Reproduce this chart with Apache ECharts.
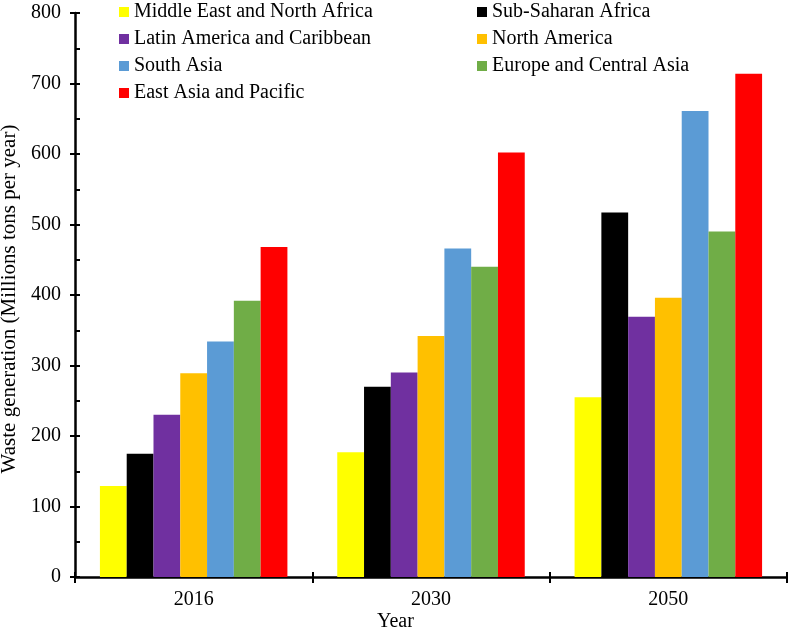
<!DOCTYPE html>
<html>
<head>
<meta charset="utf-8">
<script src="https://cdn.jsdelivr.net/npm/echarts@6/dist/echarts.min.js"></script>
<style>
  html, body { margin: 0; padding: 0; background: #fff; }
  #chart { width: 788px; height: 635px; }
</style>
</head>
<body>
<div id="chart"></div>
<script>
const years = ['2016', '2030', '2050'];
const regions = [
    'Middle East and North Africa',
    'Sub-Saharan Africa',
    'Latin America and Caribbean',
    'North America',
    'South Asia',
    'Europe and Central Asia',
    'East Asia and Pacific'
];
const colors = ['#FFFF00', '#000000', '#7030A0', '#FFC000', '#5B9BD5', '#70AD47', '#FF0000'];

const middleEast = [129, 177, 255];
const subSaharan = [175, 270, 517];
const latinAmerica = [230, 290, 369];
const northAmerica = [289, 342, 396];
const southAsia = [334, 466, 661];
const europe = [392, 440, 490];
const eastAsia = [468, 602, 714];
const valuesBySeries = [middleEast, subSaharan, latinAmerica, northAmerica, southAsia, europe, eastAsia];

const yTicks = { min: 0, max: 800, interval: 100 };

const font = '"Liberation Serif", "Times New Roman", serif';
const axisLine = { show: true, lineStyle: { color: '#000', width: 2.5 } };

const chart = echarts.init(document.getElementById('chart'));

const legendBase = {
    orient: 'vertical',
    icon: 'rect',
    itemWidth: 10,
    itemHeight: 10,
    itemGap: 7,
    padding: 0,
    textStyle: { fontFamily: font, fontSize: 20, color: '#000' },
    selectedMode: false
};

const option = {
    animation: false,
    title: {
        text: 'Year',
        left: 377,
        top: 612,
        padding: 0,
        textStyle: { fontFamily: font, fontSize: 20, fontWeight: 'normal', color: '#000' }
    },
    legend: [
        Object.assign({}, legendBase, { left: 119, top: 2, data: [regions[0], regions[2], regions[4], regions[6]] }),
        Object.assign({}, legendBase, { left: 477, top: 2, data: [regions[1], regions[3], regions[5]] })
    ],
    grid: { left: 75, right: 1, top: 13, bottom: 58, outerBoundsMode: 'none' },
    xAxis: [
        {
            type: 'category',
            data: years,
            axisLine: axisLine,
            axisTick: { show: true, length: 6, lineStyle: { color: '#000', width: 2 } },
            axisLabel: { fontFamily: font, fontSize: 20, color: '#000', margin: 13 }
        },
        {
            type: 'category',
            data: years,
            position: 'bottom',
            axisLine: { show: false },
            axisTick: { show: true, inside: true, length: 5, lineStyle: { color: '#000', width: 2 } },
            axisLabel: { show: false }
        }
    ],
    yAxis: [
        {
            type: 'value',
            min: yTicks.min,
            max: yTicks.max,
            interval: yTicks.interval,
            name: 'Waste generation (Millions tons per year)',
            nameLocation: 'middle',
            nameGap: 47,
            nameTextStyle: { fontFamily: font, fontSize: 21, color: '#000', padding: [0, 8, 0, 0] },
            axisLine: axisLine,
            axisTick: { show: true, length: 5, lineStyle: { color: '#000', width: 2 } },
            axisLabel: { fontFamily: font, fontSize: 20, color: '#000', margin: 14 },
            splitLine: { show: false }
        },
        {
            type: 'value',
            position: 'left',
            min: yTicks.min,
            max: yTicks.max,
            interval: yTicks.interval,
            axisLine: { show: false },
            axisTick: { show: true, inside: true, length: 5, lineStyle: { color: '#000', width: 2 } },
            minorTick: { show: true, splitNumber: 2, length: 5, lineStyle: { color: '#000', width: 2 } },
            axisLabel: { show: false },
            splitLine: { show: false }
        }
    ],
    series: regions.map((name, i) => ({
        name: name,
        type: 'bar',
        data: valuesBySeries[i],
        itemStyle: { color: colors[i] },
        barGap: 0,
        barCategoryGap: '21%'
    }))
};

chart.setOption(option);
</script>
</body>
</html>
